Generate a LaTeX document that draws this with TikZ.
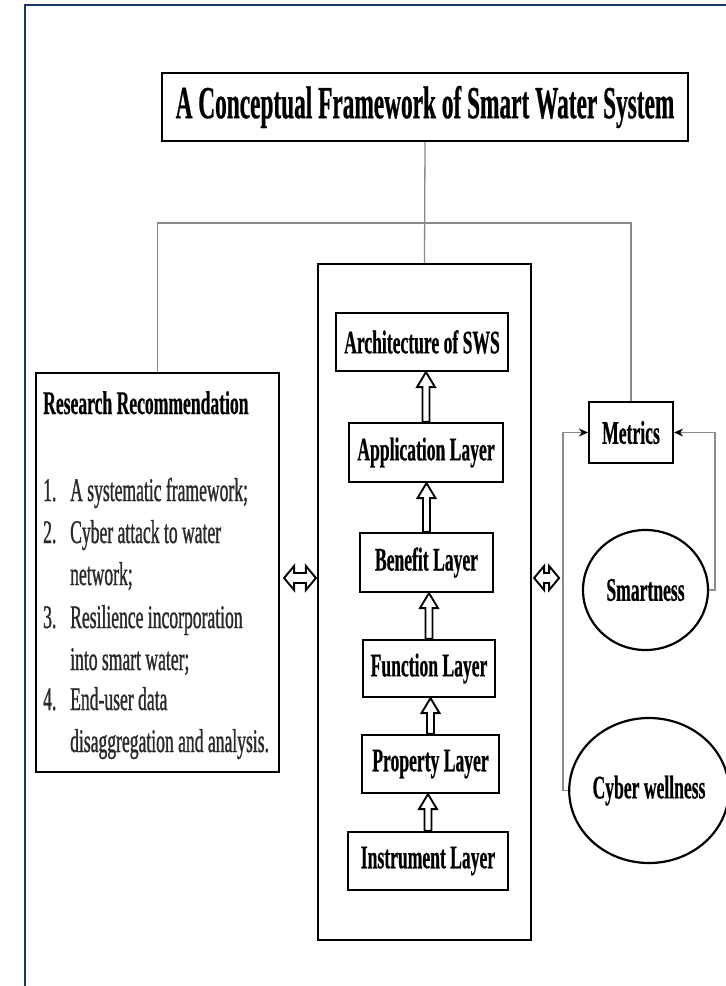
\documentclass[tikz,border=0pt]{standalone}
\usepackage{fontspec}
\setmainfont{Liberation Serif}[FakeStretch=0.533, FakeBold=0.5]
\newfontfamily\headfont{Liberation Serif}[FakeStretch=0.507, FakeBold=0.5]
\newfontfamily\listfont{Liberation Serif}[FakeStretch=0.533, FakeBold=0.9]
\usetikzlibrary{calc,shapes.geometric,arrows.meta}

\definecolor{frameblue}{HTML}{1F3468}
\definecolor{linkgray}{HTML}{8A8A8A}
\definecolor{listgray}{HTML}{2A2A2A}

\newcommand\bodysize{\fontsize{33}{40}\selectfont}
\newcommand\titlesize{\headfont\fontsize{46}{54}\selectfont}
\newcommand\rrnum[1]{\makebox[27pt][l]{#1}}

% hollow upward block arrow from the top of #1 to the bottom of #2
\newcommand\hollowup[2]{%
  \draw[hollow] let \p1=(#1.north), \p2=(#2.south) in
    (\x1-3.5pt,\y1) -- (\x1-3.5pt,\y2-15pt) -- (\x1-9pt,\y2-15pt) -- (\x1,\y2)
    -- (\x1+9pt,\y2-15pt) -- (\x1+3.5pt,\y2-15pt) -- (\x1+3.5pt,\y1) -- cycle;}

% hollow two-headed block arrow between two points on one level
\newcommand\hollowdouble[2]{%
  \draw[hollow] let \p1=(#1), \p2=(#2) in
    (\x1,\y1) -- (\x1+10pt,\y1+12pt) -- (\x1+10pt,\y1+5pt) -- (\x2-10pt,\y1+5pt)
    -- (\x2-10pt,\y1+12pt) -- (\x2,\y1) -- (\x2-10pt,\y1-12pt) -- (\x2-10pt,\y1-5pt)
    -- (\x1+10pt,\y1-5pt) -- (\x1+10pt,\y1-12pt) -- cycle;}

\tikzset{
  box/.style={draw, line width=2.2pt, fill=white, inner sep=0pt, font=\bodysize\bfseries},
  oval/.style={ellipse, draw, line width=2.2pt, fill=white, inner sep=0pt, font=\bodysize\bfseries},
  listline/.style={anchor=base west, inner sep=0pt, font=\listfont\bodysize, text=listgray},
  link/.style={draw=linkgray, line width=1.3pt},
  linktip/.style={link, -{Stealth[length=9pt,width=8pt,black]}},
  hollow/.style={draw=black, line width=1.9pt, fill=white, line join=miter},
}

\begin{document}
\begin{tikzpicture}[x=1pt, y=-1pt]
  \useasboundingbox (0,0) rectangle (726,986);
  \fill[white] (0,0) rectangle (726,986);

  % page frame
  \draw[frameblue, line width=2.5pt] (25,986) -- (25,5) -- (726,5);

  % heading
  \node[box, minimum width=526pt, minimum height=68pt, font=\titlesize\bfseries]
    (title) at (425,107) {A Conceptual Framework of Smart Water System};

  % left panel
  \node[box, minimum width=243pt, minimum height=399pt] (research) at (157.5,572.5) {};
  \node[anchor=base west, inner sep=0pt, font=\bodysize\bfseries] (rhead) at (43,414) {Research Recommendation};
  \node[listline] (r1)  at (43,501) {\rrnum{1.}A systematic framework;};
  \node[listline] (r2)  at (43,543) {\rrnum{2.}Cyber attack to water};
  \node[listline] (r2b) at (43,585) {\rrnum{}network;};
  \node[listline] (r3)  at (43,628) {\rrnum{3.}Resilience incorporation};
  \node[listline] (r3b) at (43,670) {\rrnum{}into smart water;};
  \node[listline] (r4)  at (43,710) {\rrnum{4.}End-user data};
  \node[listline] (r4b) at (43,752) {\rrnum{}disaggregation and analysis.};

  % layer stack
  \node[box, minimum width=213pt, minimum height=676pt] (stack) at (424.5,602) {};
  \node[box, minimum width=172pt, minimum height=58pt] (arch)  at (422,342)   {Architecture of SWS};
  \node[box, minimum width=154pt, minimum height=59pt] (app)   at (426,452.5) {Application Layer};
  \node[box, minimum width=133pt, minimum height=59pt] (ben)   at (426.5,562.5) {Benefit Layer};
  \node[box, minimum width=132pt, minimum height=57pt] (func)  at (429,668.5) {Function Layer};
  \node[box, minimum width=137pt, minimum height=58pt] (prop)  at (430.5,764) {Property Layer};
  \node[box, minimum width=160pt, minimum height=58pt] (instr) at (428,861)   {Instrument Layer};

  % metrics
  \node[box, minimum width=84pt, minimum height=61pt] (metrics) at (631,432.5) {Metrics};
  \node[oval, minimum width=125pt, minimum height=120pt] (smart) at (645.5,590) {Smartness};
  \node[oval, minimum width=152pt, minimum height=145pt] (cyber) at (649,790.5) {Cyber wellness};

  % tree of connectors below the heading
  \coordinate (bar) at (0,223);
  \draw[link] (title.south) -- (stack.north);
  \draw[link] (research.north) |- (metrics.north |- bar) -- (metrics.north);

  % metric links
  \draw[linktip] (cyber.west) -- ++(-5,0) |- (metrics.west);
  \draw[linktip] (smart.east) -- ++(6,0) |- (metrics.east);

  % layer arrows
  \hollowup{app}{arch}
  \hollowup{ben}{app}
  \hollowup{func}{ben}
  \hollowup{prop}{func}
  \hollowup{instr}{prop}

  % two-way arrows between the panels
  \coordinate (mid) at (0,578);
  \hollowdouble{$(research.east |- mid)+(4,0)$}{$(stack.west |- mid)+(-1,0)$}
  \hollowdouble{$(stack.east |- mid)+(2,0)$}{$(cyber.west |- mid)+(-9,0)$}
\end{tikzpicture}
\end{document}
